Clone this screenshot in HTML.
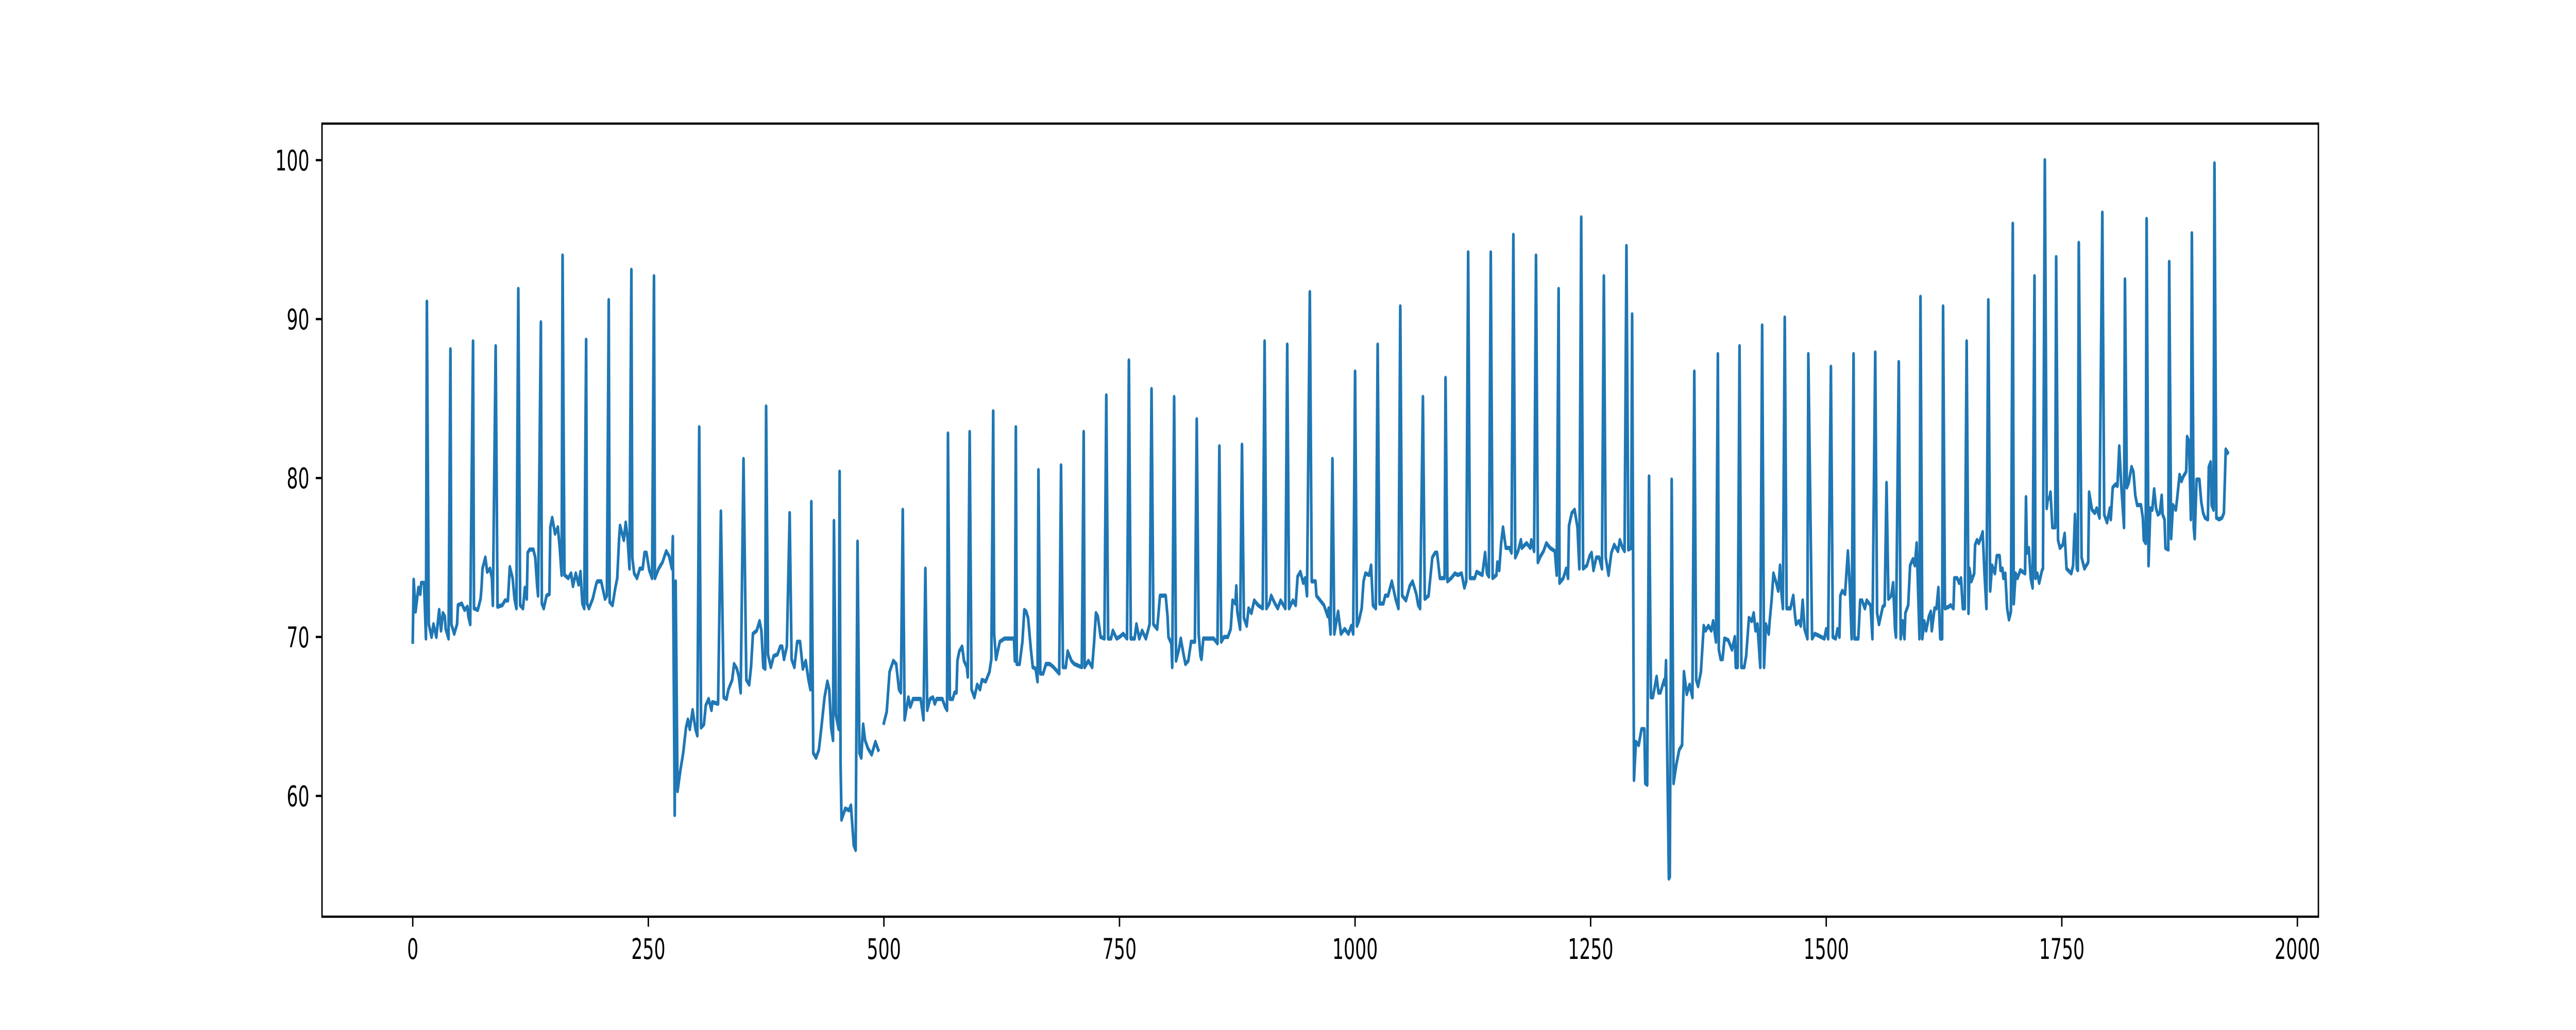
<!DOCTYPE html>
<html><head><meta charset="utf-8"><style>
html,body{margin:0;padding:0;background:#fff;width:100%;height:100%;overflow:hidden;}
svg{display:block;width:100vw;height:100vh;font-family:"DejaVu Sans","Liberation Sans",sans-serif;}
</style></head><body>
<svg id="chart" viewBox="0 0 8000 2000" preserveAspectRatio="none" xmlns="http://www.w3.org/2000/svg">
<rect x="0" y="0" width="8000" height="2000" fill="#fff"/>
<g id="plot"></g>
<rect x="1000" y="240" width="6200" height="1540" fill="none" stroke="#000" stroke-width="4.4"/>
<g id="xaxis"></g>
<g id="yaxis"></g>
</svg>
<script>
const xTicks = [0, 250, 500, 750, 1000, 1250, 1500, 1750, 2000];
const xTickLabels = ["0", "250", "500", "750", "1000", "1250", "1500", "1750", "2000"];
const yTicks = [60, 70, 80, 90, 100];
const yTickLabels = ["60", "70", "80", "90", "100"];
// samples: [x, y]; null y = gap
const samples = [
[0,69.7],[1,73.6],[3,71.6],[6,73.1],[8,72.7],[9,73.4],[12,73.4],[14,69.9],[15,91.1],[17,70.8],[20,70.0],[22,70.8],[25,70.0],[28,71.7],[30,70.4],[32,71.5],[34,71.3],[35,70.5],[38,69.9],[40,88.1],
[41,70.8],[44,70.2],[47,70.8],[48,72.0],[52,72.1],[55,71.7],[58,71.9],[59,71.3],[61,70.8],[64,88.6],[65,71.8],[69,71.7],[72,72.4],[73,73.1],[74,74.3],[77,75.0],[79,74.1],[82,74.3],[84,73.7],[85,72.0],[88,88.3],
[90,71.9],[95,72.0],[98,72.3],[101,72.3],[103,74.4],[106,73.7],[108,72.4],[110,71.8],[112,91.9],[114,72.0],[117,71.8],[119,73.1],[121,72.4],[122,75.3],[124,75.5],[128,75.5],[130,75.0],[132,73.2],[133,72.6],[136,89.8],
[137,72.1],[139,71.8],[142,72.6],[145,72.7],[146,76.9],[148,77.5],[151,76.5],[154,76.9],[156,75.6],[158,73.9],[159,94.0],[161,73.9],[165,73.7],[168,74.0],[170,73.2],[173,74.0],[176,73.3],[178,74.1],[180,72.1],[182,71.8],[184,88.7],
[185,72.1],[187,71.8],[191,72.4],[195,73.4],[196,73.5],[200,73.5],[204,72.4],[206,72.6],[208,91.2],[209,72.2],[212,72.0],[215,73.1],[217,73.7],[219,76.2],[220,77.0],[224,76.1],[226,77.2],[228,76.2],[230,74.3],[232,93.1],
[233,75.0],[235,74.0],[238,73.7],[241,74.3],[244,74.3],[246,75.3],[248,75.3],[251,74.2],[254,73.7],[256,92.7],[257,73.7],[261,74.3],[265,74.7],[269,75.4],[272,75.1],[275,74.3],[276,76.3],[278,58.8],[279,73.5],
[281,60.3],[284,61.6],[287,62.7],[290,64.3],[292,64.8],[294,64.2],[297,65.4],[300,64.2],[302,63.8],[304,83.2],[306,64.3],[309,64.5],[311,65.7],[314,66.1],[317,65.4],[318,65.9],[324,65.8],[327,77.9],
[330,66.2],[333,66.1],[335,66.7],[339,67.3],[341,68.3],[344,68.0],[346,67.5],[348,66.5],[351,81.2],[354,67.3],[357,67.0],[359,68.1],[361,70.2],[365,70.4],[368,71.0],[370,70.4],[372,68.1],[374,68.0],[375,84.5],
[377,68.9],[380,68.1],[383,68.8],[387,68.9],[390,69.4],[392,69.4],[394,68.6],[397,69.4],[400,77.8],[402,68.6],[405,68.1],[408,69.7],[411,69.7],[414,68.0],[417,68.5],[420,67.3],[422,66.7],[423,78.5],
[425,62.7],[428,62.4],[431,62.9],[434,64.5],[437,66.2],[440,67.2],[442,66.7],[444,64.3],[446,63.5],[447,77.3],[449,65.1],[452,64.2],[453,80.4],[454,62.1],[455,58.5],[459,59.2],[463,59.1],[465,59.4],[468,56.9],[470,56.6],[472,76.0],
[474,62.7],[476,62.4],[478,64.5],[480,63.5],[483,63.0],[487,62.6],[491,63.4],[494,62.9],[496,null],[500,64.6],[503,65.3],[506,67.8],[510,68.5],[513,68.3],[516,66.7],[518,66.5],[520,78.0],
[522,64.8],[526,66.2],[528,65.6],[531,66.1],[539,66.1],[542,64.8],[544,74.3],[546,65.4],[549,66.1],[552,66.2],[554,65.8],[556,66.1],[562,66.1],[565,65.6],[567,65.4],[568,82.8],
[570,66.1],[573,66.1],[575,66.5],[577,66.5],[578,68.5],[580,69.1],[583,69.4],[585,68.5],[588,68.1],[589,67.5],[591,82.9],[593,66.7],[596,66.2],[599,67.0],[602,66.7],[604,67.3],[608,67.2],[612,67.8],[614,68.6],[616,84.2],
[617,70.2],[619,68.6],[623,69.7],[628,69.9],[638,69.9],[639,68.5],[640,83.2],[641,68.3],[644,68.3],[647,69.7],[649,71.7],[651,71.6],[653,71.2],[656,69.2],[658,68.1],[661,68.0],[663,67.2],[664,80.5],
[666,67.7],[669,67.7],[672,68.3],[676,68.3],[680,68.1],[686,67.7],[688,80.8],[690,68.1],[693,68.1],[695,69.1],[699,68.5],[702,68.3],[710,68.1],[712,82.9],[713,68.1],[717,68.5],[721,68.1],[723,69.6],[725,71.5],[727,71.3],[730,70.0],[734,69.9],[736,85.2],
[738,69.9],[741,69.9],[743,70.4],[747,69.9],[750,70.0],[754,70.2],[758,69.9],[760,87.4],[762,69.9],[766,69.9],[768,70.8],[771,69.9],[774,70.4],[778,69.9],[782,70.8],[784,85.6],
[786,70.8],[790,70.5],[793,72.6],[799,72.6],[801,71.3],[802,70.0],[805,69.6],[806,68.1],[808,85.1],[810,68.5],[813,69.2],[815,69.9],[818,68.9],[820,68.3],[823,68.5],[826,69.7],[830,69.7],[832,83.7],
[834,70.2],[836,68.8],[837,68.6],[839,69.9],[850,69.9],[854,69.6],[856,82.0],[858,69.7],[861,70.0],[865,70.0],[868,70.5],[870,72.3],[873,72.1],[874,73.2],[875,71.6],[878,70.5],[880,82.1],
[882,71.2],[885,70.7],[887,71.8],[890,71.5],[893,72.3],[897,72.0],[902,71.8],[904,88.6],[906,71.8],[909,72.1],[911,72.6],[915,72.1],[918,71.8],[921,72.3],[926,71.8],[928,88.4],
[930,71.8],[934,72.3],[937,72.0],[939,73.8],[942,74.1],[945,73.4],[947,73.7],[949,72.6],[952,91.7],[954,73.5],[958,73.5],[959,72.6],[963,72.3],[967,72.0],[971,71.3],[972,71.8],[974,70.2],[976,81.2],
[978,70.2],[982,71.6],[985,70.2],[989,70.5],[993,70.2],[996,70.7],[998,70.2],[1000,86.7],[1002,70.7],[1004,71.0],[1007,71.8],[1009,73.5],[1011,74.0],[1015,73.9],[1017,74.5],[1019,72.0],[1022,71.8],[1024,88.4],
[1026,72.1],[1030,72.1],[1032,72.6],[1035,72.6],[1039,73.5],[1043,72.4],[1046,71.8],[1048,90.8],[1050,72.6],[1054,72.3],[1058,73.2],[1061,73.5],[1065,72.7],[1067,72.0],[1069,71.8],[1072,85.1],
[1074,72.4],[1078,72.6],[1082,75.0],[1085,75.3],[1087,75.3],[1090,73.7],[1095,73.7],[1096,86.3],[1098,73.5],[1102,73.7],[1106,74.0],[1109,73.9],[1113,74.0],[1116,73.1],[1118,73.5],[1120,94.2],
[1122,73.7],[1127,73.7],[1129,74.1],[1132,74.0],[1135,73.9],[1138,75.3],[1140,74.0],[1142,73.8],[1144,94.2],[1146,73.7],[1150,73.9],[1151,74.7],[1153,74.2],[1155,75.9],[1157,76.9],[1160,75.6],[1164,75.6],[1166,75.3],[1168,95.3],
[1170,75.0],[1173,75.4],[1176,76.1],[1177,75.6],[1182,75.9],[1186,75.6],[1187,76.1],[1190,75.4],[1192,94.0],[1194,74.7],[1197,75.1],[1200,75.4],[1203,75.9],[1207,75.6],[1212,75.4],[1214,73.9],[1216,91.9],
[1217,73.4],[1221,73.7],[1224,74.3],[1226,73.7],[1227,77.0],[1230,77.8],[1233,78.0],[1236,76.9],[1238,74.3],[1240,96.4],[1242,74.3],[1246,74.5],[1249,75.1],[1251,75.3],[1253,74.2],[1256,75.0],[1259,75.0],[1262,74.3],[1264,92.7],
[1266,75.0],[1269,73.9],[1272,75.3],[1275,75.8],[1279,75.4],[1281,76.1],[1284,75.6],[1286,75.4],[1288,94.6],[1290,75.5],[1293,75.6],[1294,90.3],[1296,61.0],[1298,63.4],[1301,63.2],[1304,64.2],[1307,64.2],[1308,60.8],[1310,60.7],[1312,80.1],
[1314,66.2],[1316,66.2],[1320,67.5],[1322,66.5],[1324,66.5],[1328,67.3],[1329,67.0],[1330,68.5],[1333,54.8],[1334,54.9],[1336,79.9],[1338,60.8],[1341,62.0],[1344,62.9],[1347,63.2],[1349,67.8],[1352,66.4],[1355,67.0],[1358,66.2],[1360,86.7],
[1362,67.3],[1364,66.9],[1367,67.8],[1370,70.7],[1372,70.4],[1375,70.7],[1378,70.4],[1380,71.0],[1383,69.7],[1385,87.8],[1386,69.2],[1388,68.6],[1390,68.6],[1392,69.9],[1396,69.8],[1400,69.2],[1403,70.0],[1404,68.1],[1406,68.1],[1408,88.3],
[1410,68.1],[1413,68.1],[1415,68.8],[1418,71.2],[1421,71.0],[1423,71.5],[1425,70.4],[1427,70.8],[1430,68.1],[1432,89.6],[1434,68.1],[1436,70.8],[1439,70.2],[1440,71.0],[1442,72.3],[1444,74.0],[1447,73.4],[1449,72.9],[1451,74.5],[1452,73.1],[1454,71.8],[1456,90.1],
[1458,71.8],[1462,71.8],[1465,72.6],[1467,71.3],[1468,70.8],[1471,71.0],[1473,70.7],[1475,72.3],[1477,70.5],[1480,69.9],[1481,87.8],[1485,69.9],[1488,70.2],[1498,69.9],[1500,70.5],[1502,69.9],[1505,87.0],
[1507,70.0],[1510,69.9],[1512,70.5],[1514,70.0],[1515,72.6],[1517,72.9],[1520,72.7],[1523,75.4],[1525,73.2],[1527,69.9],[1529,87.8],[1530,69.9],[1534,69.9],[1536,72.3],[1538,72.3],[1541,71.8],[1543,72.3],[1547,72.0],[1549,69.9],[1552,87.9],
[1554,71.5],[1556,70.8],[1560,71.9],[1562,72.0],[1564,79.7],[1566,72.4],[1569,72.6],[1571,73.4],[1573,70.5],[1574,70.0],[1577,87.3],[1579,69.9],[1581,71.0],[1583,69.9],[1584,71.5],[1587,72.0],[1589,74.5],[1592,74.9],[1594,74.5],[1596,75.9],[1597,73.9],[1599,69.9],[1600,91.4],
[1602,69.9],[1604,71.0],[1606,70.4],[1609,71.3],[1611,71.6],[1612,70.4],[1615,71.8],[1617,71.8],[1619,73.1],[1621,69.9],[1623,69.9],[1624,90.8],[1626,71.8],[1630,71.9],[1632,72.0],[1635,71.8],[1636,73.7],[1639,73.7],[1641,73.4],[1643,73.7],[1645,71.8],[1647,71.8],[1649,88.6],
[1651,71.5],[1652,74.3],[1654,73.5],[1657,74.0],[1658,75.8],[1660,76.1],[1662,75.9],[1665,76.4],[1666,76.6],[1668,73.9],[1670,71.8],[1672,91.2],[1674,72.9],[1676,74.5],[1679,74.0],[1681,75.1],[1684,75.1],[1685,74.2],[1687,74.3],[1688,73.7],[1690,74.0],[1692,71.8],[1694,71.1],[1696,71.6],[1698,96.0],
[1699,72.1],[1701,74.0],[1703,73.7],[1706,74.2],[1711,74.0],[1712,78.8],[1713,75.3],[1715,75.6],[1717,73.7],[1719,73.1],[1721,92.7],[1722,73.7],[1724,74.0],[1726,73.4],[1729,74.2],[1730,74.3],[1732,100.0],
[1734,78.1],[1735,78.6],[1737,78.8],[1738,79.1],[1740,76.9],[1743,76.9],[1744,93.9],[1746,76.1],[1748,75.6],[1751,75.8],[1753,76.5],[1755,74.3],[1760,74.0],[1762,74.5],[1764,77.7],[1766,74.3],[1767,74.2],[1768,94.8],
[1771,75.0],[1774,74.3],[1778,74.7],[1779,79.1],[1782,78.0],[1785,77.8],[1787,78.1],[1790,77.5],[1793,96.7],[1795,77.7],[1798,77.2],[1801,78.1],[1802,77.4],[1804,79.4],[1807,79.6],[1809,79.5],[1811,82.0],[1813,79.6],[1816,76.9],[1817,92.5],
[1819,79.4],[1821,79.7],[1824,80.7],[1826,80.4],[1828,78.9],[1830,78.3],[1834,78.3],[1836,77.5],[1837,76.1],[1839,75.9],[1840,96.3],[1842,74.5],[1844,78.1],[1846,78.0],[1848,79.3],[1850,78.1],[1852,77.7],[1854,77.8],[1856,78.9],[1857,77.7],[1859,77.4],[1860,75.6],[1863,75.5],[1864,93.6],
[1866,76.2],[1868,78.3],[1871,78.0],[1872,78.5],[1875,80.2],[1877,79.8],[1879,80.1],[1882,80.4],[1883,82.6],[1885,82.3],[1887,77.4],[1888,95.4],[1890,76.9],[1891,76.2],[1893,79.9],[1896,79.9],[1898,78.5],[1900,77.8],[1902,77.5],[1905,77.4],[1906,80.7],[1908,81.0],[1909,78.3],[1911,78.0],[1912,99.8],
[1914,77.5],[1917,77.4],[1920,77.5],[1922,77.8],[1924,81.8],[1926,81.6]
];

const NS = "http://www.w3.org/2000/svg";
const PL = 1000, PR = 7200, PT = 240, PB = 1780;
const XMIN = -96.3, XMAX = 2022.3, YMIN = 52.4, YMAX = 102.3;
function sx(v){ return PL + (v - XMIN) / (XMAX - XMIN) * (PR - PL); }
function sy(v){ return PB - (v - YMIN) / (YMAX - YMIN) * (PB - PT); }

const plot = document.getElementById('plot');
let d = "", pen = false;
for (const [x, y] of samples) {
  if (y === null) { pen = false; continue; }
  d += (pen ? "L" : "M") + sx(x).toFixed(1) + " " + sy(y).toFixed(1);
  pen = true;
}
const line = document.createElementNS(NS, 'path');


line.setAttribute('d', d);
line.setAttribute('fill', 'none');
line.setAttribute('stroke', '#1f77b4');
line.setAttribute('stroke-width', '8.3');
line.setAttribute('stroke-linejoin', 'round');
line.setAttribute('stroke-linecap', 'square');
plot.appendChild(line);

const xaxis = document.getElementById('xaxis');
xTicks.forEach((t, i) => {
  const x = sx(t);
  const tk = document.createElementNS(NS, 'line');
  
  
  tk.setAttribute('x1', x); tk.setAttribute('x2', x);
  tk.setAttribute('y1', PB); tk.setAttribute('y2', PB + 19.4);
  tk.setAttribute('stroke', '#000'); tk.setAttribute('stroke-width', '4.4');
  xaxis.appendChild(tk);
  const tx = document.createElementNS(NS, 'text');
  
  
  tx.setAttribute('x', x); tx.setAttribute('y', 1862);
  tx.setAttribute('text-anchor', 'middle');
  tx.setAttribute('font-size', '55.6');
  tx.textContent = xTickLabels[i];
  xaxis.appendChild(tx);
});

const yaxis = document.getElementById('yaxis');
yTicks.forEach((t, i) => {
  const y = sy(t);
  const tk = document.createElementNS(NS, 'line');
  
  
  tk.setAttribute('x1', PL - 19.4); tk.setAttribute('x2', PL);
  tk.setAttribute('y1', y); tk.setAttribute('y2', y);
  tk.setAttribute('stroke', '#000'); tk.setAttribute('stroke-width', '4.4');
  yaxis.appendChild(tk);
  const tx = document.createElementNS(NS, 'text');
  
  
  tx.setAttribute('x', 961); tx.setAttribute('y', y + 20);
  tx.setAttribute('text-anchor', 'end');
  tx.setAttribute('font-size', '55.6');
  tx.textContent = yTickLabels[i];
  yaxis.appendChild(tx);
});
</script>
</body></html>
